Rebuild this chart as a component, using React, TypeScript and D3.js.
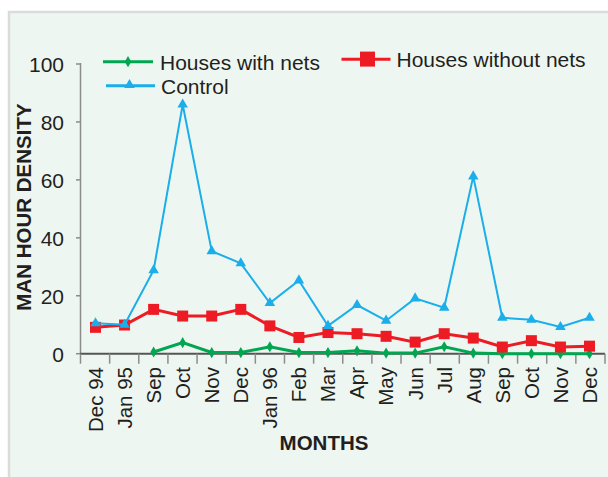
import React from "react";
import * as d3 from "d3";

const months = [
  "Dec 94", "Jan 95", "Sep", "Oct", "Nov", "Dec", "Jan 96", "Feb", "Mar",
  "Apr", "May", "Jun", "Jul", "Aug", "Sep ", "Oct ", "Nov ", "Dec ",
];

// null = no sample that month
const withNets = [null, null, 0.6, 3.8, 0.4, 0.4, 2.4, 0.4, 0.4, 1, 0.2, 0.2, 2.4, 0.2, 0, 0, 0, 0];
const withoutNets = [9.1, 9.9, 15.3, 13, 13, 15.3, 9.6, 5.6, 7.3, 6.9, 6, 4, 6.9, 5.4, 2.3, 4.5, 2.3, 2.6];
const control = [10.5, 10, 28.8, 86, 35.4, 31.2, 17.5, 25.3, 9.6, 16.8, 11.4, 19.1, 15.9, 61.2, 12.4, 11.7, 9.2, 12.4];

const yTicks = [0, 20, 40, 60, 80, 100];

const GREEN = "#00a650";
const RED = "#ed1c24";
const BLUE = "#1aaeea";
const TEXT = "#231f20";
const FONT = "'Liberation Sans', Arial, sans-serif";

export default function App() {
  const width = 608;
  const height = 477;

  const x = d3.scalePoint<string>().domain(months).range([95.5, 589.5]);
  // tick marks in the original are evenly spaced on their own grid
  const tickGrid = d3.scaleLinear().domain([0, months.length]).range([80.5, 605]);
  const y = d3.scaleLinear().domain([0, 100]).range([353.7, 64]);

  const line = d3
    .line<number | null>()
    .defined((d) => d !== null)
    .x((_, i) => x(months[i]) as number)
    .y((d) => y(d as number));

  const diamond = d3.symbol(d3.symbolDiamond, 36)();
  const triangle = d3.symbol(d3.symbolTriangle, 48)();

  return (
    <svg
      width={width}
      height={height}
      style={{ position: "absolute", left: 0, top: 0, background: "#fff" }}
      fontFamily={FONT}
    >
      <rect x={9} y={12} width={width} height={height} fill="#eef6f1" stroke="#dadcdb" strokeWidth={2.5} />

      {/* y axis */}
      <line x1={80.5} x2={80.5} y1={y(100) - 1} y2={y(0)} stroke="#8c8c8c" strokeWidth={1.5} />
      {yTicks.map((t) => (
        <g key={t} transform={`translate(0,${y(t)})`}>
          <line x1={76} x2={80.5} stroke="#8c8c8c" strokeWidth={1.5} />
          <text x={64} dy="0.4em" textAnchor="end" fontSize={21} fill={TEXT}>
            {t}
          </text>
        </g>
      ))}

      {/* x axis */}
      <line x1={80} x2={605} y1={y(0)} y2={y(0)} stroke="#555" strokeWidth={2} />
      {d3.range(months.length + 1).map((i) => (
        <line key={i} x1={tickGrid(i)} x2={tickGrid(i)} y1={y(0)} y2={y(0) + 10} stroke="#8c8c8c" strokeWidth={1.5} />
      ))}
      {months.map((m) => (
        <text
          key={m}
          transform={`translate(${x(m)},367) rotate(-90)`}
          textAnchor="end"
          dy="0.36em"
          fontSize={20.5}
          fill={TEXT}
        >
          {m.trim()}
        </text>
      ))}

      <text x={324} y={450} textAnchor="middle" fontSize={20.5} fontWeight="bold" fill={TEXT}>
        MONTHS
      </text>
      <text
        transform="translate(31,207) rotate(-90)"
        textAnchor="middle"
        fontSize={20.5}
        fontWeight="bold"
        fill={TEXT}
      >
        MAN HOUR DENSITY
      </text>

      {/* series */}
      <path d={line(withNets) as string} fill="none" stroke={GREEN} strokeWidth={3} />
      {withNets.map((v, i) =>
        v === null ? null : (
          <path key={i} d={diamond as string} transform={`translate(${x(months[i])},${y(v)})`} fill={GREEN} />
        )
      )}

      <path d={line(withoutNets) as string} fill="none" stroke={RED} strokeWidth={3} />
      {withoutNets.map((v, i) => (
        <rect key={i} x={(x(months[i]) as number) - 5.5} y={y(v) - 5.5} width={11} height={11} fill={RED} />
      ))}

      <path d={line(control) as string} fill="none" stroke={BLUE} strokeWidth={2} />
      {control.map((v, i) => (
        <path key={i} d={triangle as string} transform={`translate(${x(months[i])},${y(v)})`} fill={BLUE} />
      ))}

      {/* legend */}
      <g>
        <line x1={103} x2={153} y1={61.7} y2={61.7} stroke={GREEN} strokeWidth={3} />
        <path d={diamond as string} transform="translate(128,61.7)" fill={GREEN} />
        <text x={160} y={69.5} fontSize={21} fill={TEXT}>Houses with nets</text>

        <line x1={341.5} x2={390.5} y1={59.3} y2={59.3} stroke={RED} strokeWidth={3} />
        <rect x={360} y={51.6} width={15} height={15} fill={RED} />
        <text x={396.5} y={67} fontSize={21} fill={TEXT}>Houses without nets</text>

        <line x1={106} x2={155} y1={85.7} y2={85.7} stroke={BLUE} strokeWidth={3} />
        <path d={triangle as string} transform="translate(129.5,85)" fill={BLUE} />
        <text x={161} y={93.5} fontSize={21} fill={TEXT}>Control</text>
      </g>
    </svg>
  );
}
